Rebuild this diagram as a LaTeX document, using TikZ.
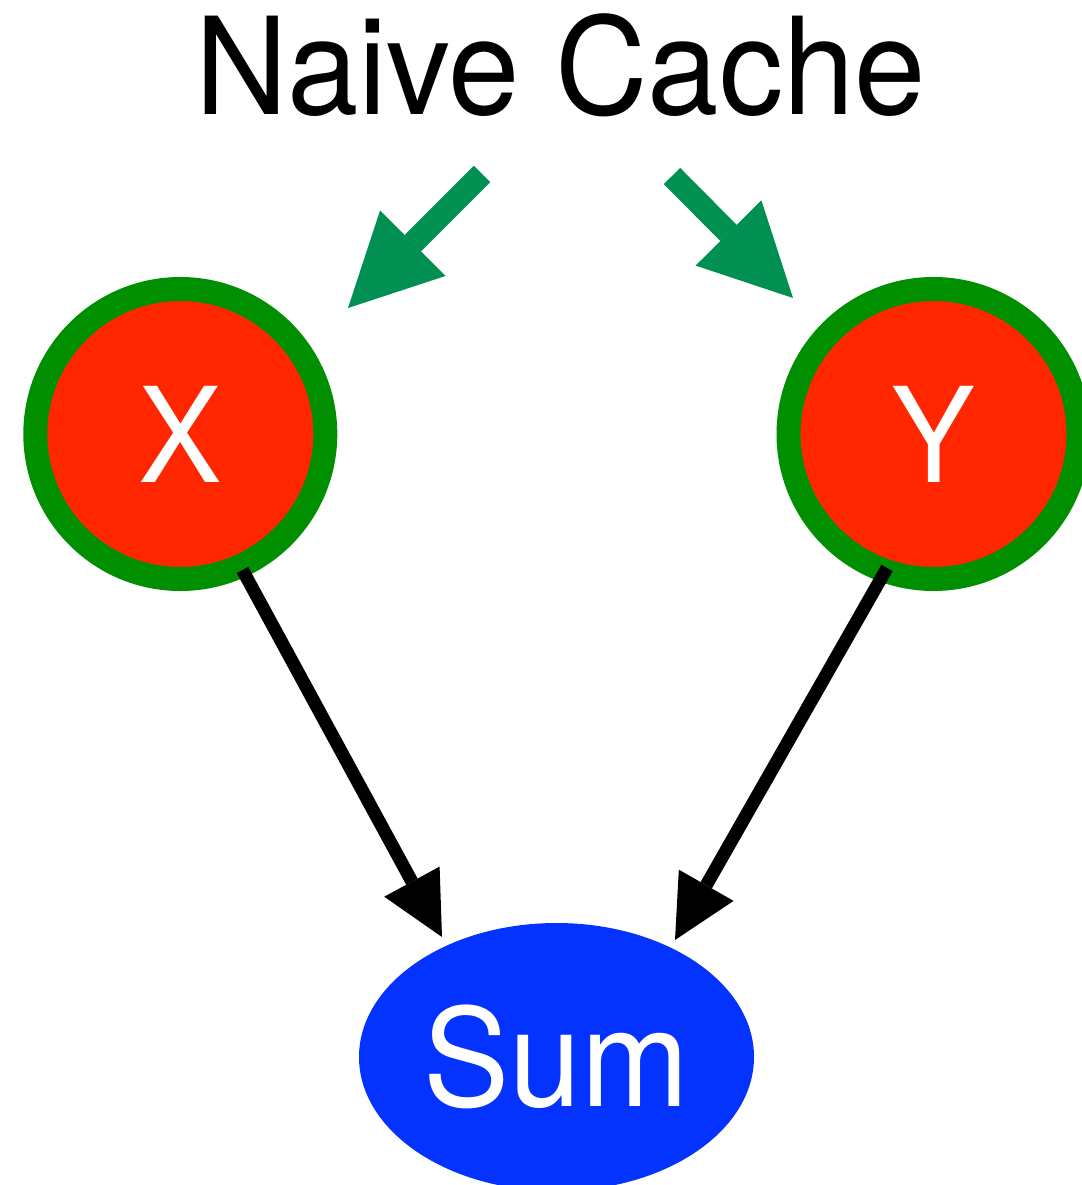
\documentclass[tikz,border=0pt]{standalone}
\usepackage{fontspec}
\setmainfont{TeX Gyre Heros}[FakeStretch=0.95]
\usetikzlibrary{arrows.meta,shapes.geometric}
\definecolor{ringgreen}{HTML}{008F00}
\definecolor{arrowgreen}{HTML}{009051}
\definecolor{nodered}{HTML}{FF2600}
\definecolor{nodeblue}{HTML}{0433FF}
\tikzset{
  varnode/.style={circle, draw=ringgreen, line width=24pt, fill=nodered, text=white,
    minimum size=290pt, inner sep=0pt, font=\fontsize{132}{140}\selectfont},
  sumnode/.style={ellipse, fill=nodeblue, text=white, minimum width=395pt,
    minimum height=268pt, inner sep=0pt, font=\fontsize{136}{140}\selectfont},
  titlenode/.style={anchor=base, inner sep=0pt, font=\fontsize{135}{140}\selectfont},
  cachearrow/.style={draw=arrowgreen, line width=23pt,
    -{Triangle[length=91.6pt,width=92.6pt,line width=0pt]}},
  deparrow/.style={draw=black, line width=13pt,
    -{Triangle[length=63pt,width=63pt,line width=0pt]}}
}
\begin{document}
\begin{tikzpicture}[x=1pt,y=-1pt]
\useasboundingbox (0,0) rectangle (1081,1185);
\node[titlenode] (title) at (560.5,115) {Naive Cache};
\node[varnode] (X) at (180.3,434) {X};
\node[varnode] (Y) at (933.5,434) {Y};
\node[sumnode] (Sum) at (556.5,1057) {Sum};
\coordinate (gls) at (482,174);
\coordinate (glt) at (348,308);
\coordinate (grs) at (672,176);
\coordinate (grt) at (793,298);
\draw[cachearrow] (gls) -- (glt);
\draw[cachearrow] (grs) -- (grt);
\coordinate (xs) at ([shift={(62.2,136)}]X.center);
\coordinate (xt) at ([shift={(-114.5,-120)}]Sum.center);
\coordinate (ys) at ([shift={(-46.5,134)}]Y.center);
\coordinate (yt) at ([shift={(118.5,-117)}]Sum.center);
\draw[deparrow] (xs) -- (xt);
\draw[deparrow] (ys) -- (yt);
\end{tikzpicture}
\end{document}
